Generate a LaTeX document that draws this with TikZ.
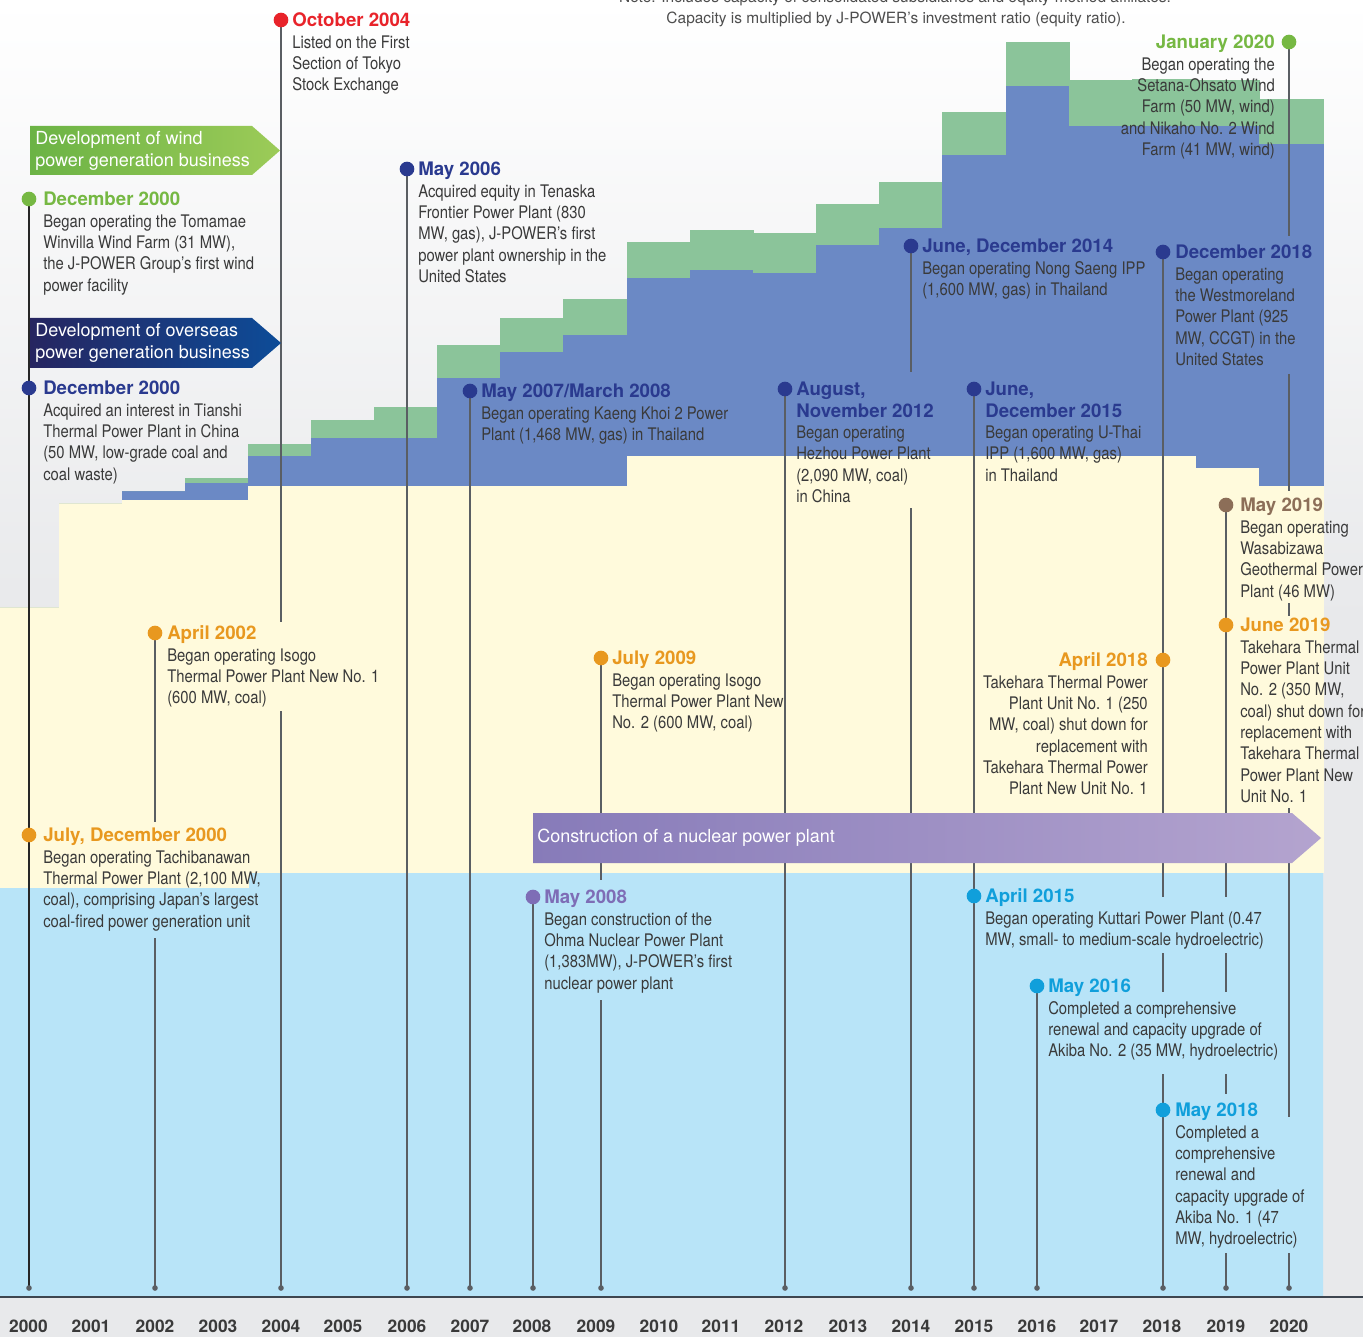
\documentclass[tikz,border=0pt]{standalone}
\usepackage{fontspec}
\setmainfont{TeX Gyre Heros}
\newfontfamily\headfont{TeX Gyre Heros}
\newfontfamily\bodyfont[FakeStretch=0.855]{TeX Gyre Heros}
\definecolor{cgreen}{HTML}{76B843}
\definecolor{cnavy}{HTML}{2A3A8F}
\definecolor{corange}{HTML}{E8981F}
\definecolor{cred}{HTML}{E8232A}
\definecolor{cpurple}{HTML}{7E6DB6}
\definecolor{ccyan}{HTML}{109FDB}
\definecolor{cbrown}{HTML}{8C6E58}
\definecolor{bodygray}{HTML}{3A3A3A}
\definecolor{stemgray}{HTML}{5A5E63}
\definecolor{fillyellow}{HTML}{FFFADC}
\definecolor{filllblue}{HTML}{B8E4F8}
\definecolor{fillblue}{HTML}{6B89C5}
\definecolor{fillgreen}{HTML}{8BC49A}
\definecolor{bggray}{HTML}{E8E9EB}
\definecolor{axisgray}{HTML}{3E4650}
\definecolor{windL}{HTML}{6BB345}
\definecolor{windR}{HTML}{9CCB58}
\definecolor{overL}{HTML}{262560}
\definecolor{overR}{HTML}{0D4C98}
\definecolor{nucL}{HTML}{877BB9}
\definecolor{nucR}{HTML}{B4A4CF}
\newcommand\hd[2]{\rule{0pt}{11pt}{\color{#1}\headfont\bfseries\fontsize{14}{16}\selectfont #2}}
\newcommand\evL[4]{%
  \node[evdot, fill=#2] (#1d) at (#1) {};
  \node[evtxt, anchor=north west, yshift=6pt] (#1t) at (#3,0 |- #1) {#4};}
\newcommand\evR[4]{%
  \node[evdot, fill=#2] (#1d) at (#1) {};
  \node[evtxt, align=right, anchor=north east, yshift=6pt] (#1t) at (#3,0 |- #1) {#4};}
\tikzset{
  evtxt/.style={inner sep=0pt, align=left, text=bodygray, font=\bodyfont\fontsize{13}{16}\selectfont},
  evdot/.style={circle, inner sep=0pt, minimum size=11pt},
  enddot/.style={circle, fill=stemgray, inner sep=0pt, minimum size=4.2pt},
  stem/.style={line width=1.1pt, draw=stemgray},
  bannertxt/.style={inner sep=0pt, align=left, text=white, font=\headfont\fontsize{13.5}{16.5}\selectfont},
  yearlbl/.style={inner sep=0pt, text=bodygray, font=\headfont\bfseries\fontsize{13}{15}\selectfont},
  notetxt/.style={inner sep=0pt, text=bodygray!90, font=\headfont\fontsize{11.6}{14}\selectfont}
}
\begin{document}
\begin{tikzpicture}[x=0.75pt,y=-0.75pt]
\useasboundingbox (0,0) rectangle (1363,1337);
% background
\shade[top color=white, bottom color=bggray] (0,0) rectangle (1363,620);
\fill[bggray] (0,619) rectangle (1363,1337);
% light blue (hydro)
\fill[filllblue] (0,888) -- (248,888) -- (248,873) -- (1323,873) -- (1323,1297) -- (0,1297) -- cycle;
% stacked columns
\foreach \xa/\xb/\ya/\yb/\yc/\yd in {
  0/59/607/607/607/888, 59/122/503/503/503/888, 122/185/500/491/491/888,
  185/248/500/483/478/888, 248/311/486/456/444/873, 311/374/486/438/420/873,
  374/437/486/438/407/873, 437/500/486/378/345/873, 500/563/486/352/318/873,
  563/627/486/335/299/873, 627/690/456/278/242/873, 690/753/456/270/230/873,
  753/816/456/273/233/873, 816/879/456/245/204/873, 879/942/456/228/182/873,
  942/1006/456/155/112/873, 1006/1069/456/86/42/873, 1069/1132/456/126/80/873,
  1132/1196/456/126/79/873, 1196/1259/468/126/80/873, 1259/1323/486/144/99/873}{
  \fill[fillyellow] (\xa,\ya) rectangle (\xb+0.5,\yd);
  \fill[fillblue] (\xa,\yb) rectangle (\xb+0.5,\ya);
  \fill[fillgreen] (\xa,\yc) rectangle (\xb+0.5,\yb);
}
% axis band
\fill[bggray] (0,1297) rectangle (1363,1337);
\coordinate (axL) at (0,1297);
\coordinate (axR) at (1363,1297);
\draw[line width=1.1pt, axisgray] (axL) -- (axR);
% year labels
\foreach \yr/\xx in {2000/28.5,2001/91,2002/155,2003/218,2004/281,2005/343,2006/407,2007/470,2008/532,2009/596,2010/659,2011/721,2012/784,2013/848,2014/911,2015/974,2016/1037,2017/1099,2018/1162,2019/1226,2020/1289}{
  \node[yearlbl] (y\yr) at (\xx,1326) {\yr};
}
% note
\node[notetxt, anchor=base] (note1) at (895,2.5) {Note: Includes capacity of consolidated subsidiaries and equity-method affiliates.};
\node[notetxt, anchor=base] (note2) at (896,24) {Capacity is multiplied by J-POWER’s investment ratio (equity ratio).};
% event points
\coordinate (p1) at (29,199);
\coordinate (p2) at (29,388);
\coordinate (p3) at (29,835);
\coordinate (p4) at (155,633);
\coordinate (p5) at (281,20);
\coordinate (p6) at (407,169);
\coordinate (p7) at (470,391);
\coordinate (p8) at (533,897);
\coordinate (p9) at (601,658);
\coordinate (p10) at (785,389);
\coordinate (p11) at (911,246);
\coordinate (p12) at (974,389);
\coordinate (p13) at (974,896);
\coordinate (p14) at (1037,986);
\coordinate (p15) at (1163,252);
\coordinate (p16) at (1163,660);
\coordinate (p17) at (1163,1110);
\coordinate (p18) at (1226,505);
\coordinate (p19) at (1226,625);
\coordinate (p20) at (1289,42);
% bottom ends
\foreach \bx/\bn in {29/b2000,155/b2002,281/b2004,407/b2006,470/b2007,533/b2008,601/b2009,785/b2012,911/b2014,974/b2015,1037/b2016,1163/b2018,1226/b2019,1289/b2020}{
  \coordinate (\bn) at (\bx,1288);
}
% stems
\draw[stem, draw=black!85] (p1) -- (b2000);
\draw[stem] (p4) -- (155,822) (155,938) -- (b2002);
\draw[stem] (p5) -- (281,622) (281,711) -- (b2004);
\draw[stem] (p6) -- (b2006);
\draw[stem] (p7) -- (b2007);
\draw[stem] (p8) -- (b2008);
\draw[stem] (p9) -- (601,880) (601,1000) -- (b2009);
\draw[stem] (p10) -- (b2012);
\draw[stem] (p11) -- (911,372) (911,508) -- (b2014);
\draw[stem] (p12) -- (b2015);
\draw[stem] (p14) -- (b2016);
\draw[stem] (p15) -- (1163,897) (1163,953) -- (1163,992) (1163,1074) -- (b2018);
\draw[stem] (p18) -- (1226,897) (1226,953) -- (1226,992) (1226,1074) -- (1226,1094) (1226,1253) -- (b2019);
\draw[stem] (p20) -- (1289,236) (1289,374) -- (1289,491) (1289,603) -- (1289,616) (1289,808) -- (1289,1117) (1289,1253) -- (b2020);
\foreach \bn in {b2000,b2002,b2004,b2006,b2007,b2008,b2009,b2012,b2014,b2015,b2016,b2018,b2019,b2020}{
  \node[enddot] (\bn dot) at (\bn) {};
}
% banners
\shade[left color=windL, right color=windR] (30,126) -- (252,126) -- (280,150.5) -- (252,175) -- (30,175) -- cycle;
\node[bannertxt, anchor=west] (bwind) at (35,150.5) {Development of wind\\power generation business};
\shade[left color=overL, right color=overR] (30,318) -- (252,318) -- (281,343) -- (252,368) -- (30,368) -- cycle;
\node[bannertxt, anchor=west] (bover) at (35,343) {Development of overseas\\power generation business};
\shade[left color=nucL, right color=nucR] (533,813) -- (1292,813) -- (1321,838) -- (1292,863) -- (533,863) -- cycle;
\node[bannertxt, anchor=west] (bnuc) at (537,838) {Construction of a nuclear power plant};
% events
\evL{p1}{cgreen}{43}{\hd{cgreen}{December 2000}\\Began operating the Tomamae\\Winvilla Wind Farm (31 MW),\\the J-POWER Group’s first wind\\power facility}
\evL{p2}{cnavy}{43}{\hd{cnavy}{December 2000}\\Acquired an interest in Tianshi\\Thermal Power Plant in China\\(50 MW, low-grade coal and\\coal waste)}
\evL{p3}{corange}{43}{\hd{corange}{July, December 2000}\\Began operating Tachibanawan\\Thermal Power Plant (2,100 MW,\\coal), comprising Japan’s largest\\coal-fired power generation unit}
\evL{p4}{corange}{167}{\hd{corange}{April 2002}\\Began operating Isogo\\Thermal Power Plant New No. 1\\(600 MW, coal)}
\evL{p5}{cred}{292}{\hd{cred}{October 2004}\\Listed on the First\\Section of Tokyo\\Stock Exchange}
\evL{p6}{cnavy}{418}{\hd{cnavy}{May 2006}\\Acquired equity in Tenaska\\Frontier Power Plant (830\\MW, gas), J-POWER’s first\\power plant ownership in the\\United States}
\evL{p7}{cnavy}{481}{\hd{cnavy}{May 2007/March 2008}\\Began operating Kaeng Khoi 2 Power\\Plant (1,468 MW, gas) in Thailand}
\evL{p8}{cpurple}{544}{\hd{cpurple}{May 2008}\\Began construction of the\\Ohma Nuclear Power Plant\\(1,383MW), J-POWER’s first\\nuclear power plant}
\evL{p9}{corange}{612}{\hd{corange}{July 2009}\\Began operating Isogo\\Thermal Power Plant New\\No. 2 (600 MW, coal)}
\evL{p10}{cnavy}{796}{\hd{cnavy}{August,}\\\hd{cnavy}{November 2012}\\Began operating\\Hezhou Power Plant\\(2,090 MW, coal)\\in China}
\evL{p11}{cnavy}{922}{\hd{cnavy}{June, December 2014}\\Began operating Nong Saeng IPP\\(1,600 MW, gas) in Thailand}
\evL{p12}{cnavy}{985}{\hd{cnavy}{June,}\\\hd{cnavy}{December 2015}\\Began operating U-Thai\\IPP (1,600 MW, gas)\\in Thailand}
\evL{p13}{ccyan}{985}{\hd{ccyan}{April 2015}\\Began operating Kuttari Power Plant (0.47\\MW, small- to medium-scale hydroelectric)}
\evL{p14}{ccyan}{1048}{\hd{ccyan}{May 2016}\\Completed a comprehensive\\renewal and capacity upgrade of\\Akiba No. 2 (35 MW, hydroelectric)}
\evL{p15}{cnavy}{1175}{\hd{cnavy}{December 2018}\\Began operating\\the Westmoreland\\Power Plant (925\\MW, CCGT) in the\\United States}
\evR{p16}{corange}{1148}{\hd{corange}{April 2018}\\Takehara Thermal Power\\Plant Unit No. 1 (250\\MW, coal) shut down for\\replacement with\\Takehara Thermal Power\\Plant New Unit No. 1}
\evL{p17}{ccyan}{1175}{\hd{ccyan}{May 2018}\\Completed a\\comprehensive\\renewal and\\capacity upgrade of\\Akiba No. 1 (47\\MW, hydroelectric)}
\evL{p18}{cbrown}{1240}{\hd{cbrown}{May 2019}\\Began operating\\Wasabizawa\\Geothermal Power\\Plant (46 MW)}
\evL{p19}{corange}{1240}{\hd{corange}{June 2019}\\Takehara Thermal\\Power Plant Unit\\No. 2 (350 MW,\\coal) shut down for\\replacement with\\Takehara Thermal\\Power Plant New\\Unit No. 1}
\evR{p20}{cgreen}{1275}{\hd{cgreen}{January 2020}\\Began operating the\\Setana-Ohsato Wind\\Farm (50 MW, wind)\\and Nikaho No. 2 Wind\\Farm (41 MW, wind)}
\end{tikzpicture}
\end{document}
